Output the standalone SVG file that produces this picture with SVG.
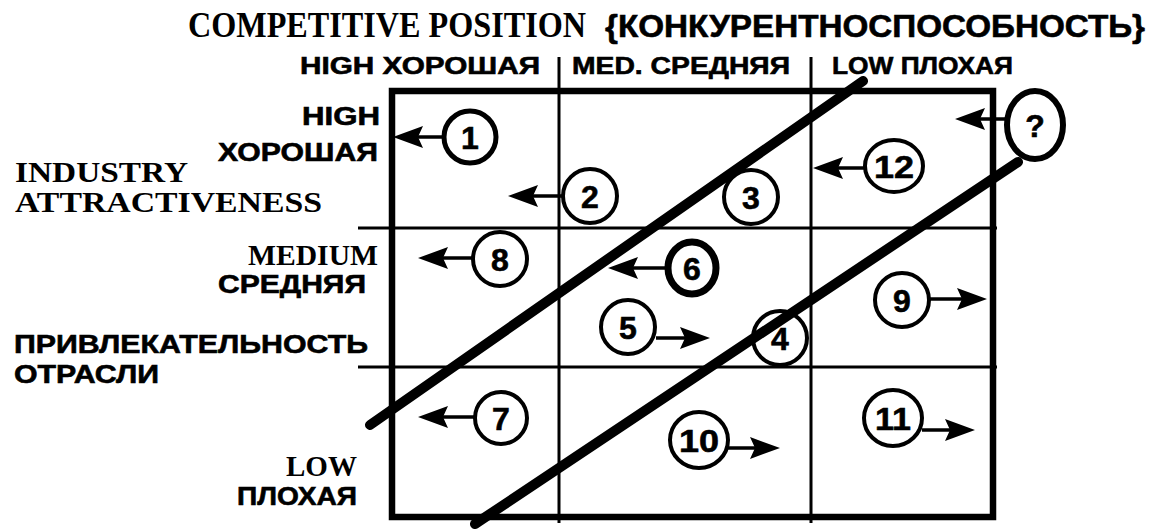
<svg xmlns="http://www.w3.org/2000/svg" width="1152" height="529" viewBox="0 0 1152 529">
<defs>
<style>
.sans{font-family:"Liberation Sans","Noto Sans",Arial,sans-serif;font-weight:bold;stroke:#000;stroke-width:0.6}
.serif{font-family:"Liberation Serif","Times New Roman",serif;font-weight:bold}
.box{fill:none;stroke:#000;stroke-width:6.5}
.thin{stroke:#000;stroke-width:3;fill:none}
.diag{stroke:#000;stroke-width:10;stroke-linecap:round;fill:none}
.node circle,.node ellipse{fill:#fff;stroke:#000;stroke-width:4}
.num{font-family:"Liberation Sans","Noto Sans",Arial,sans-serif;font-weight:bold;font-size:32px;text-anchor:middle;stroke:#000;stroke-width:0.6}
.conn line{stroke:#000;stroke-width:3.5;marker-end:url(#ah)}
</style>
<marker id="ah" markerUnits="userSpaceOnUse" viewBox="0 0 30 22" markerWidth="30" markerHeight="22" refX="22" refY="11" orient="auto">
<path d="M0,0 L30,11 L0,22 L5,11 Z" fill="#000"/>
</marker>
</defs>
<rect width="1152" height="529" fill="#fff"/>

<g id="title">
<text class="serif" x="188" y="37" font-size="35" textLength="398" lengthAdjust="spacingAndGlyphs">COMPETITIVE POSITION</text>
<text class="sans" x="605" y="37" font-size="31" textLength="540" lengthAdjust="spacingAndGlyphs">{КОНКУРЕНТНОСПОСОБНОСТЬ}</text>
</g>

<g id="column-headers">
<text class="sans" x="300" y="74" font-size="24" textLength="240" lengthAdjust="spacingAndGlyphs">HIGH ХОРОШАЯ</text>
<text class="sans" x="572" y="74" font-size="24" textLength="218" lengthAdjust="spacingAndGlyphs">MED. СРЕДНЯЯ</text>
<text class="sans" x="832" y="74" font-size="24" textLength="181" lengthAdjust="spacingAndGlyphs">LOW ПЛОХАЯ</text>
</g>

<g id="row-labels">
<text class="sans" x="302" y="125" font-size="25" textLength="78" lengthAdjust="spacingAndGlyphs">HIGH</text>
<text class="sans" x="218" y="161" font-size="25" textLength="160" lengthAdjust="spacingAndGlyphs">ХОРОШАЯ</text>
<text class="serif" x="15" y="182" font-size="30" textLength="173" lengthAdjust="spacingAndGlyphs">INDUSTRY</text>
<text class="serif" x="15" y="212" font-size="30" textLength="307" lengthAdjust="spacingAndGlyphs">ATTRACTIVENESS</text>
<text class="serif" x="248" y="265" font-size="29" textLength="130" lengthAdjust="spacingAndGlyphs">MEDIUM</text>
<text class="sans" x="218" y="293" font-size="25" textLength="148" lengthAdjust="spacingAndGlyphs">СРЕДНЯЯ</text>
<text class="sans" x="14" y="353" font-size="26" textLength="354" lengthAdjust="spacingAndGlyphs">ПРИВЛЕКАТЕЛЬНОСТЬ</text>
<text class="sans" x="14" y="383" font-size="26" textLength="145" lengthAdjust="spacingAndGlyphs">ОТРАСЛИ</text>
<text class="serif" x="286" y="476" font-size="29" textLength="71" lengthAdjust="spacingAndGlyphs">LOW</text>
<text class="sans" x="237" y="505" font-size="25" textLength="120" lengthAdjust="spacingAndGlyphs">ПЛОХАЯ</text>
</g>

<g id="grid">
<line class="thin" x1="559" y1="57" x2="559" y2="523"/>
<line class="thin" x1="811" y1="57" x2="811" y2="523"/>
<line class="thin" x1="358" y1="228" x2="997" y2="228"/>
<line class="thin" x1="358" y1="367" x2="997" y2="367"/>
<rect class="box" x="392" y="91" width="601" height="426"/>
</g>

<g id="nodes">
<g id="n1" class="node"><circle cx="470" cy="137" r="26" style="stroke-width:5"/><text class="num" x="470" y="149">1</text></g>
<g id="n2" class="node"><circle cx="590" cy="196" r="27"/><text class="num" x="590" y="208">2</text></g>
<g id="n3" class="node"><circle cx="751" cy="197" r="27"/><text class="num" x="751" y="209">3</text></g>
<g id="n4" class="node"><circle cx="780" cy="338" r="27"/><text class="num" x="780" y="350">4</text></g>
<g id="n5" class="node"><circle cx="628" cy="327" r="27"/><text class="num" x="628" y="339">5</text></g>
<g id="n6" class="node"><ellipse cx="692" cy="268" rx="24" ry="26" style="stroke-width:7"/><text class="num" x="692" y="280">6</text></g>
<g id="n7" class="node"><circle cx="501" cy="418" r="26"/><text class="num" x="501" y="430">7</text></g>
<g id="n8" class="node"><circle cx="500" cy="259" r="27"/><text class="num" x="500" y="271">8</text></g>
<g id="n9" class="node"><circle cx="902" cy="300" r="27"/><text class="num" x="902" y="312">9</text></g>
<g id="n10" class="node"><ellipse cx="699" cy="440" rx="29" ry="28"/><text class="num" x="699" y="452" textLength="40" lengthAdjust="spacingAndGlyphs">10</text></g>
<g id="n11" class="node"><ellipse cx="893" cy="418" rx="29" ry="28"/><text class="num" x="893" y="430" textLength="36" lengthAdjust="spacingAndGlyphs">11</text></g>
<g id="n12" class="node"><ellipse cx="894" cy="166" rx="29" ry="26"/><text class="num" x="894" y="178" textLength="40" lengthAdjust="spacingAndGlyphs">12</text></g>
<g id="nq" class="node"><ellipse cx="1035" cy="125" rx="28" ry="34" style="stroke-width:6"/><text class="num" x="1035" y="137">?</text></g>
</g>

<g id="connectors" class="conn">
<line x1="444" y1="137" x2="401" y2="137"/>
<line x1="563" y1="196" x2="516" y2="196"/>
<line x1="1007" y1="119" x2="963" y2="119"/>
<line x1="865" y1="168" x2="821" y2="168"/>
<line x1="473" y1="258" x2="426" y2="258"/>
<line x1="665" y1="268" x2="616" y2="268"/>
<line x1="475" y1="417" x2="426" y2="417"/>
<line x1="656" y1="338" x2="702" y2="338"/>
<line x1="929" y1="299" x2="979" y2="299"/>
<line x1="728" y1="448" x2="772" y2="448"/>
<line x1="922" y1="430" x2="967" y2="430"/>
</g>

<g id="dividers">
<line class="diag" x1="370" y1="425" x2="863" y2="81"/>
<line class="diag" x1="475" y1="524" x2="1018" y2="162"/>
</g>
</svg>
